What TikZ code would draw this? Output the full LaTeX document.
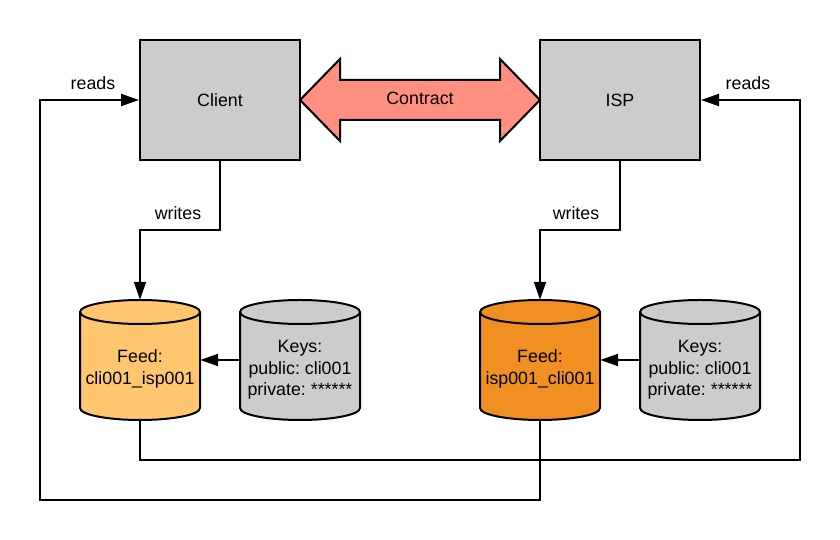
\documentclass[tikz,border=0pt]{standalone}
\usepackage{fontspec}
\setmainfont{Liberation Sans}
\frenchspacing
\usetikzlibrary{arrows.meta}
\definecolor{boxgray}{HTML}{CCCCCC}
\definecolor{lightorange}{HTML}{FFC670}
\definecolor{darkorange}{HTML}{F09022}
\definecolor{salmon}{HTML}{FF8F80}
\tikzset{
  every node/.style={font=\fontsize{17.8}{21.5}\selectfont\frenchspacing, align=center},
  box/.style={draw=black, line width=2pt, fill=boxgray, minimum width=160pt, minimum height=120pt, inner sep=0pt},
  cylnode/.style={minimum width=120pt, minimum height=120pt, inner sep=0pt},
  conn/.style={draw=black, line width=2pt, -{Triangle[length=18pt,width=12pt]}},
  plain/.style={draw=black, line width=2pt},
  lbl/.style={inner sep=0pt}
}
\newcommand{\mycyl}[3]{%
  \fill[#3] (#1-60,#2+48) -- (#1-60,#2-48) arc[start angle=180,end angle=360,x radius=60pt,y radius=12pt] -- (#1+60,#2+48) arc[start angle=0,end angle=180,x radius=60pt,y radius=12pt] -- cycle;
  \draw[line width=2pt] (#1-60,#2+48) -- (#1-60,#2-48) arc[start angle=180,end angle=360,x radius=60pt,y radius=12pt] -- (#1+60,#2+48);
  \draw[line width=2pt] (#1,#2+48) ellipse[x radius=60pt, y radius=12pt];
}
\begin{document}
\begin{tikzpicture}[x=1pt,y=1pt]
\useasboundingbox (0,0) rectangle (840,540);
% boxes
\node[box] (client) at (220,440) {Client};
\node[box] (isp) at (620,440) {ISP};
% contract double arrow
\fill[salmon] (300,440) -- (340,481) -- (340,460) -- (500,460) -- (500,481) -- (540,440) -- (500,399) -- (500,420) -- (340,420) -- (340,399) -- cycle;
\draw[line width=2pt, line join=miter] (300,440) -- (340,481) -- (340,460) -- (500,460) -- (500,481) -- (540,440) -- (500,399) -- (500,420) -- (340,420) -- (340,399) -- cycle;
\node[lbl] (contract) at (420,442) {Contract};
% cylinders
\mycyl{140}{180}{lightorange}
\mycyl{300}{180}{boxgray}
\mycyl{540}{180}{darkorange}
\mycyl{700}{180}{boxgray}
\node[cylnode] (feedL) at (140,180) {};
\node[cylnode] (keysL) at (300,180) {};
\node[cylnode] (feedR) at (540,180) {};
\node[cylnode] (keysR) at (700,180) {};
\node[lbl] (feedLt) at (140,171) {Feed:\\cli001\_isp001};
\node[lbl] (keysLt) at (300,170) {Keys:\\public: cli001\\private: ******};
\node[lbl] (feedRt) at (540,171) {Feed:\\isp001\_cli001};
\node[lbl] (keysRt) at (700,170) {Keys:\\public: cli001\\private: ******};
% writes
\coordinate (wL) at (140,310);
\coordinate (wR) at (540,310);
\draw[conn] (client.south) |- (wL) -- (feedL.north);
\draw[conn] (isp.south) |- (wR) -- (feedR.north);
\node[lbl] (writesL) at (178,327) {writes};
\node[lbl] (writesR) at (576,327) {writes};
% keys to feeds
\draw[conn] (keysL.west) -- (feedL.east);
\draw[conn] (keysR.west) -- (feedR.east);
% reads
\coordinate (rL1) at (140,80);
\coordinate (rL2) at (800,80);
\coordinate (rL3) at (800,440);
\draw[conn] (feedL.south) -- (rL1) -- (rL2) -- (rL3) -- (isp.east);
\coordinate (rR1) at (540,40);
\coordinate (rR2) at (40,40);
\coordinate (rR3) at (40,440);
\draw[conn] (feedR.south) -- (rR1) -- (rR2) -- (rR3) -- (client.west);
\node[lbl] (readsL) at (93,457) {reads};
\node[lbl] (readsR) at (748,457) {reads};
\end{tikzpicture}
\end{document}
